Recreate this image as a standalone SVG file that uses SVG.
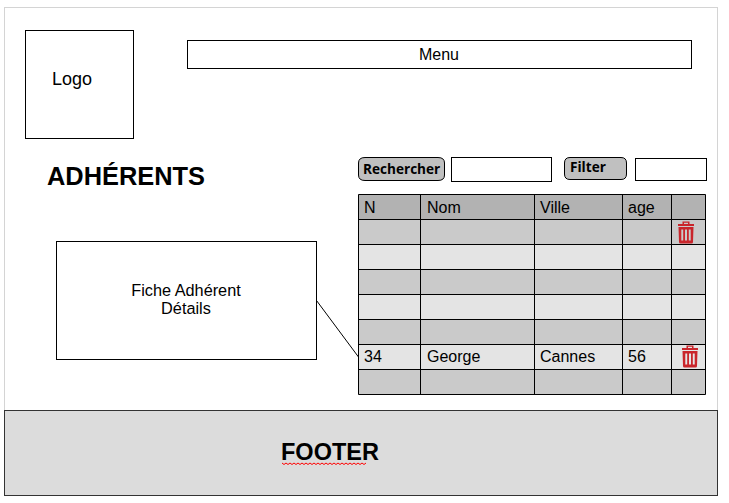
<svg xmlns="http://www.w3.org/2000/svg" width="729" height="503" viewBox="0 0 729 503">
<style>
text{font-family:"Liberation Sans",Arial,sans-serif;fill:#000}
.b{fill:#fff;stroke:#000;stroke-width:1}
.t{font-size:16px}
.c{font-size:16px}
.btn{fill:#c0c0c0;stroke:#000;stroke-width:1}
.bt{font-family:"Open Sans","DejaVu Sans",sans-serif;font-weight:700;font-size:13.600px}
.d{fill:#cacaca}.l{fill:#e4e4e4}.h{fill:#b2b2b2}
.g{stroke:#000;stroke-width:1;fill:none}
.tr{fill:#c9252b}
</style>
<defs>
<g id="trash"><path class="tr" fill-rule="evenodd" d="M-8 -7V-9H-3.500V-11.500H3.500V-9H8V-7ZM-2 -10.200V-9H2V-10.200Z"/><path class="tr" fill-rule="evenodd" d="M-7.500 -6H7.500L7 9Q7 10.500 5.500 10.500H-5.500Q-7 10.500 -7 9ZM-4.700 -3.500V7.500H-2.800V-3.500ZM-1 -3.500V7.500H1V-3.500ZM2.800 -3.500V7.500H4.700V-3.500Z"/></g>
</defs>
<rect id="page" x="4.500" y="7.500" width="713" height="403" fill="#fff" stroke="#d4d4d4" stroke-width="1"/>
<g id="logo"><rect class="b" x="25.500" y="30.500" width="108" height="108"/><text x="52" y="85" font-size="18">Logo</text></g>
<g id="menu"><rect class="b" x="187.500" y="40.500" width="504" height="28"/><text class="c" x="439" y="60" text-anchor="middle">Menu</text></g>
<text id="title" x="47" y="185" font-size="25.400" font-weight="700">ADHÉRENTS</text>
<g id="rechercher"><path class="btn" d="M365 157.500H438Q444.500 157.500 444.500 163V175Q444.500 180.500 438 180.500H365Q358.500 180.500 358.500 175V163Q358.500 157.500 365 157.500Z"/><text class="bt" x="363" y="174">Rechercher</text></g>
<rect id="search-input" class="b" x="451.500" y="157.500" width="100" height="24"/>
<g id="filter"><path class="btn" d="M570 157.500H621Q626.500 157.500 626.500 163V174Q626.500 179.500 621 179.500H570Q564.500 179.500 564.500 174V163Q564.500 157.500 570 157.500Z"/><text class="bt" x="570" y="172">Filter</text></g>
<rect id="filter-input" class="b" x="635.500" y="158.500" width="71" height="22"/>
<g id="table">
<rect class="h" x="358.500" y="194.500" width="347" height="25"/>
<rect class="d" x="358.500" y="219.500" width="347" height="25"/>
<rect class="l" x="358.500" y="244.500" width="347" height="25"/>
<rect class="d" x="358.500" y="269.500" width="347" height="25"/>
<rect class="l" x="358.500" y="294.500" width="347" height="25"/>
<rect class="d" x="358.500" y="319.500" width="347" height="25"/>
<rect class="l" x="358.500" y="344.500" width="347" height="25"/>
<rect class="d" x="358.500" y="369.500" width="347" height="25"/>
<path class="g" d="M358.500 194.500H705.500V394.500H358.500ZM358.500 219.500H705.500M358.500 244.500H705.500M358.500 269.500H705.500M358.500 294.500H705.500M358.500 319.500H705.500M358.500 344.500H705.500M358.500 369.500H705.500M420.500 194.500V394.500M534.500 194.500V394.500M622.500 194.500V394.500M671.500 194.500V394.500"/>
<text class="t" x="364" y="213">N</text><text class="t" x="427" y="213">Nom</text><text class="t" x="540" y="213">Ville</text><text class="t" x="628" y="213">age</text>
<text class="t" x="364" y="362">34</text><text class="t" x="427" y="362">George</text><text class="t" x="540" y="362">Cannes</text><text class="t" x="628" y="362">56</text>
<use href="#trash" x="686" y="233"/><use href="#trash" x="690" y="357"/>
</g>
<g id="fiche"><rect class="b" x="56.500" y="241.500" width="260" height="118"/><text x="186" y="295.500" font-size="16.300" text-anchor="middle">Fiche Adhérent</text><text x="186" y="314" font-size="16.300" text-anchor="middle">Détails</text></g>
<g id="connectors"><line x1="316.500" y1="300.500" x2="358.500" y2="357" stroke="#000" stroke-width="1"/></g>
<g id="footer"><rect x="4.500" y="410.500" width="713" height="85" fill="#dcdcdc" stroke="#333" stroke-width="1"/><text x="281" y="460" font-size="23.500" font-weight="700">FOOTER</text><path d="M282 463l2 1.500 2-1.500 2 1.500 2-1.500 2 1.500 2-1.500 2 1.500 2-1.500 2 1.500 2-1.500 2 1.500 2-1.500 2 1.500 2-1.500 2 1.500 2-1.500 2 1.500 2-1.500 2 1.500 2-1.500 2 1.500 2-1.500 2 1.500 2-1.500 2 1.500 2-1.500 2 1.500 2-1.500 2 1.500 2-1.500 2 1.500 2-1.500 2 1.500 2-1.500 2 1.500 2-1.500 2 1.500 2-1.500 2 1.500 2-1.500 2 1.500 2-1.500" fill="none" stroke="#f00" stroke-width="1"/></g>
</svg>
